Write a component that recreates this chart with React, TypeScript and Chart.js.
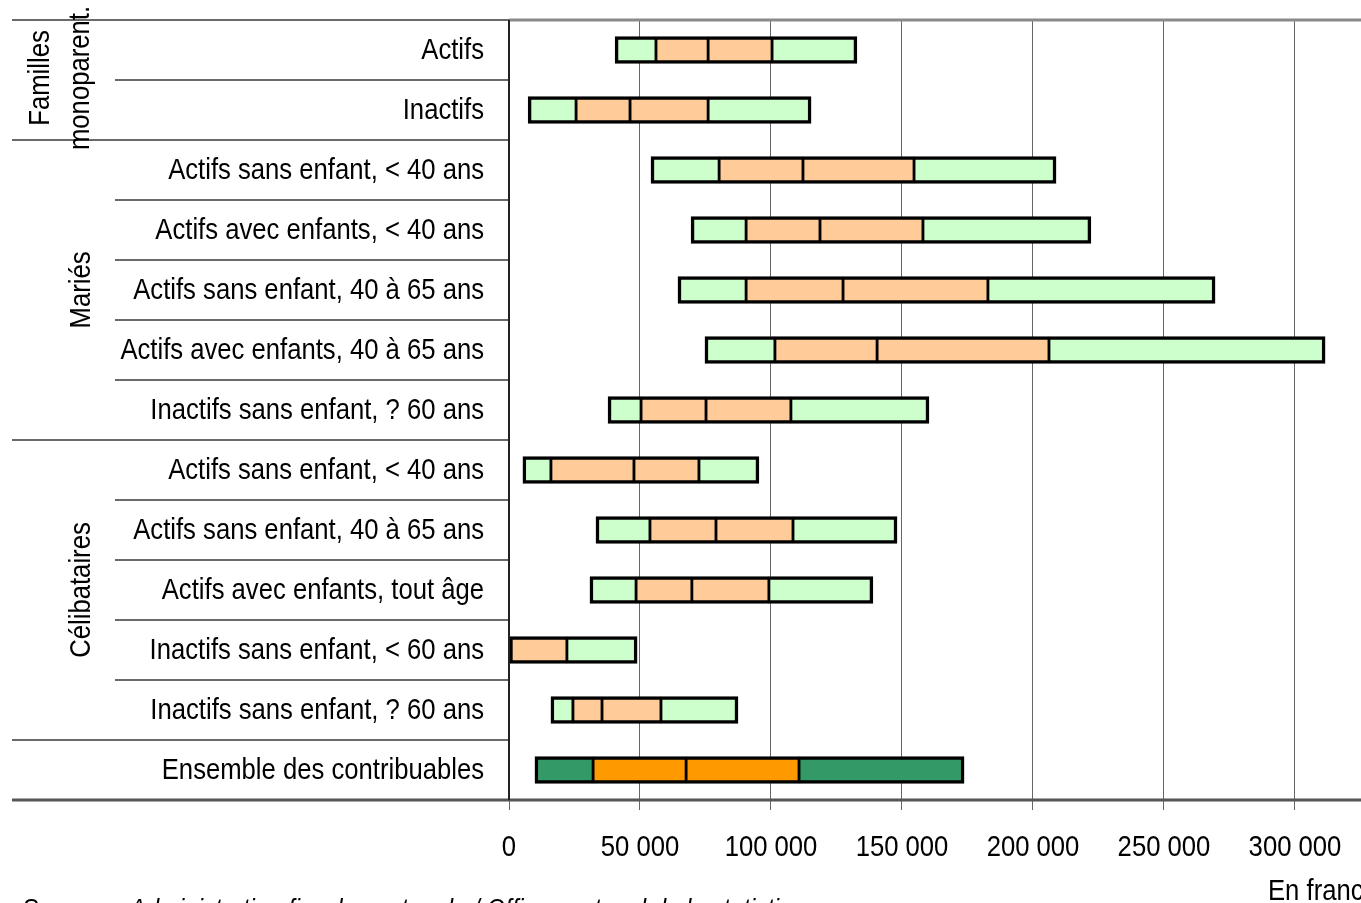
import React, { useEffect, useRef } from "react";
import { Chart, registerables } from "chart.js";
Chart.register(...registerables);

const categories = [
  "Actifs",
  "Inactifs",
  "Actifs sans enfant, < 40 ans",
  "Actifs avec enfants, < 40 ans",
  "Actifs sans enfant, 40 à 65 ans",
  "Actifs avec enfants, 40 à 65 ans",
  "Inactifs sans enfant, ? 60 ans",
  "Actifs sans enfant, < 40 ans",
  "Actifs sans enfant, 40 à 65 ans",
  "Actifs avec enfants, tout âge",
  "Inactifs sans enfant, < 60 ans",
  "Inactifs sans enfant, ? 60 ans",
  "Ensemble des contribuables",
];

// 1er décile, 1er quartile, médiane, 3e quartile, 9e décile (francs)
const p10 = [40500, 7300, 54200, 69500, 64500, 74800, 37800, 5300, 33200, 30900, 0, 16000, 9900];
const q1 = [56100, 25600, 80200, 90500, 90500, 101500, 50400, 16000, 53800, 48500, 0, 24400, 32100];
const med = [76000, 46200, 112200, 118700, 127500, 140500, 75200, 47700, 79000, 69800, 0, 35500, 67600];
const q3 = [100400, 76000, 154600, 158000, 182800, 206100, 107600, 72500, 108400, 99200, 22100, 58000, 110700];
const p90 = [132800, 115300, 208800, 222100, 269500, 311500, 160300, 95400, 148100, 138900, 48900, 87400, 173700];

const xTickValues = [0, 50000, 100000, 150000, 200000, 250000, 300000];
const xMax = 325200;

const groupNames = [["Familles", "monoparent."], ["Mariés"], ["Célibataires"]];
const groupStarts = [0, 2, 7, 12];
const groupEnds = [2, 7, 12, 13];

const unitLabel = "En francs";
const sourceLabel = "Sources : Administration fiscale cantonale / Office cantonal de la statistique";

const FONT = '"Liberation Sans", Arial, sans-serif';
const NARROW = 0.855;

const LIGHT_GREEN = "#CCFFCC";
const LIGHT_ORANGE = "#FFCC99";
const DARK_GREEN = "#339966";
const DARK_ORANGE = "#FF9900";

function fmt(v: number) {
  return String(v).replace(/\B(?=(\d{3})+(?!\d))/g, " ");
}

function narrowText(
  c: CanvasRenderingContext2D,
  text: string,
  x: number,
  y: number,
  align: CanvasTextAlign,
  size: number,
  italic = false,
  rotate = false
) {
  c.save();
  c.font = `${italic ? "italic " : ""}${size}px ${FONT}`;
  c.fillStyle = "#000";
  c.textAlign = align;
  c.textBaseline = "alphabetic";
  c.translate(x, y);
  if (rotate) c.rotate(-Math.PI / 2);
  c.scale(NARROW, 1);
  c.fillText(text, 0, 0);
  c.restore();
}

export default function App() {
  const ref = useRef<HTMLCanvasElement | null>(null);

  useEffect(() => {
    const canvas = ref.current;
    if (!canvas) return;
    const last = categories.length - 1;
    const segColor = (kind: "g" | "o") => (ctx: any) =>
      ctx.dataIndex === last ? (kind === "g" ? DARK_GREEN : DARK_ORANGE) : kind === "g" ? LIGHT_GREEN : LIGHT_ORANGE;

    const bounds = [p10, q1, med, q3, p90];
    const kinds: ("g" | "o")[] = ["g", "o", "o", "g"];
    const datasets = kinds.map((k, i) => ({
      label: ["P10-Q1", "Q1-Médiane", "Médiane-Q3", "Q3-P90"][i],
      data: categories.map((_, r) => [bounds[i][r], bounds[i + 1][r]]),
      backgroundColor: segColor(k),
      borderColor: "#000000",
      borderWidth: (ctx: any) => {
        const r = ctx.dataIndex;
        const isFirst = bounds[i][r] === bounds[0][r];
        const isLast = i === 3;
        return { top: 3.5, bottom: 3.5, left: isFirst ? 3.5 : 1.75, right: isLast ? 3.5 : 1.75 };
      },
      borderSkipped: false,
      barThickness: 27,
    }));

    const decor = {
      id: "decor",
      afterDraw(chart: any) {
        const c = chart.ctx;
        const area = chart.chartArea;
        const y = chart.scales.y;
        const x = chart.scales.x;
        c.save();
        const rowH = (area.bottom - area.top) / categories.length;
        // row separators
        for (let r = 0; r <= categories.length; r++) {
          const yy = area.top + r * rowH;
          const isGroup = groupStarts.includes(r) || r === categories.length;
          c.strokeStyle = "#6a6a6a";
          c.lineWidth = 2;
          c.beginPath();
          c.moveTo(isGroup ? 12 : 115, yy);
          c.lineTo(area.left, yy);
          c.stroke();
        }
        // top border of plot
        c.strokeStyle = "#8a8a8a";
        c.lineWidth = 3;
        c.beginPath();
        c.moveTo(area.left, area.top);
        c.lineTo(chart.width, area.top);
        c.stroke();
        // bottom axis line
        c.strokeStyle = "#555555";
        c.lineWidth = 3;
        c.beginPath();
        c.moveTo(12, area.bottom);
        c.lineTo(chart.width, area.bottom);
        c.stroke();
        // left axis line
        c.strokeStyle = "#222222";
        c.lineWidth = 2;
        c.beginPath();
        c.moveTo(area.left, area.top);
        c.lineTo(area.left, area.bottom);
        c.stroke();

        // category labels
        categories.forEach((lab, i) => {
          narrowText(c, lab, area.left - 25, y.getPixelForTick(i) + 9, "right", 30);
        });
        // x tick labels
        xTickValues.forEach((v) => {
          narrowText(c, fmt(v), x.getPixelForValue(v), area.bottom + 56, "center", 30);
        });

        // group labels (rotated)
        groupNames.forEach((lines, g) => {
          const y0 = y.getPixelForTick(groupStarts[g]) - rowH / 2;
          const y1 = y.getPixelForTick(groupEnds[g] - 1) + rowH / 2;
          const cy = (y0 + y1) / 2;
          lines.forEach((t, li) => {
            const bx = lines.length === 2 ? (li === 0 ? 49 : 89) : 90;
            narrowText(c, t, bx, cy + (lines.length === 2 ? -2 : 0), "center", 30, false, true);
          });
        });

        // unit label
        narrowText(c, unitLabel, 1268, area.bottom + 100, "left", 30);
        // source
        narrowText(c, sourceLabel, 22, area.bottom + 118, "left", 28, true);
        c.restore();
      },
    };

    const chart = new Chart(canvas, {
      type: "bar",
      data: { labels: categories, datasets: datasets as any },
      options: {
        indexAxis: "y",
        animation: false,
        responsive: false,
        maintainAspectRatio: false,
        layout: { padding: { left: 0, top: 20, right: 0, bottom: 0 } },
        plugins: { legend: { display: false }, tooltip: { enabled: false } },
        scales: {
          x: {
            type: "linear",
            min: 0,
            max: xMax,
            afterBuildTicks: (scale: any) => {
              scale.ticks = xTickValues.map((v) => ({ value: v }));
            },
            afterFit: (scale: any) => {
              scale.height = 140;
            },
            grid: { color: "#666666", lineWidth: 1, tickLength: 10, drawTicks: true, tickColor: "#666666" },
            border: { display: false },
            ticks: { display: false },
          },
          y: {
            type: "category",
            stacked: true,
            afterFit: (scale: any) => {
              scale.width = 509;
            },
            grid: { display: false, drawTicks: false },
            border: { display: false },
            ticks: { display: false },
          },
        },
      },
      plugins: [decor],
    });
    return () => chart.destroy();
  }, []);

  return (
    <div style={{ position: "fixed", left: 0, top: 0, width: 1361, height: 903, overflow: "hidden", background: "#fff" }}>
      <canvas ref={ref} width={1361} height={940} style={{ width: 1361, height: 940, display: "block" }} />
    </div>
  );
}
